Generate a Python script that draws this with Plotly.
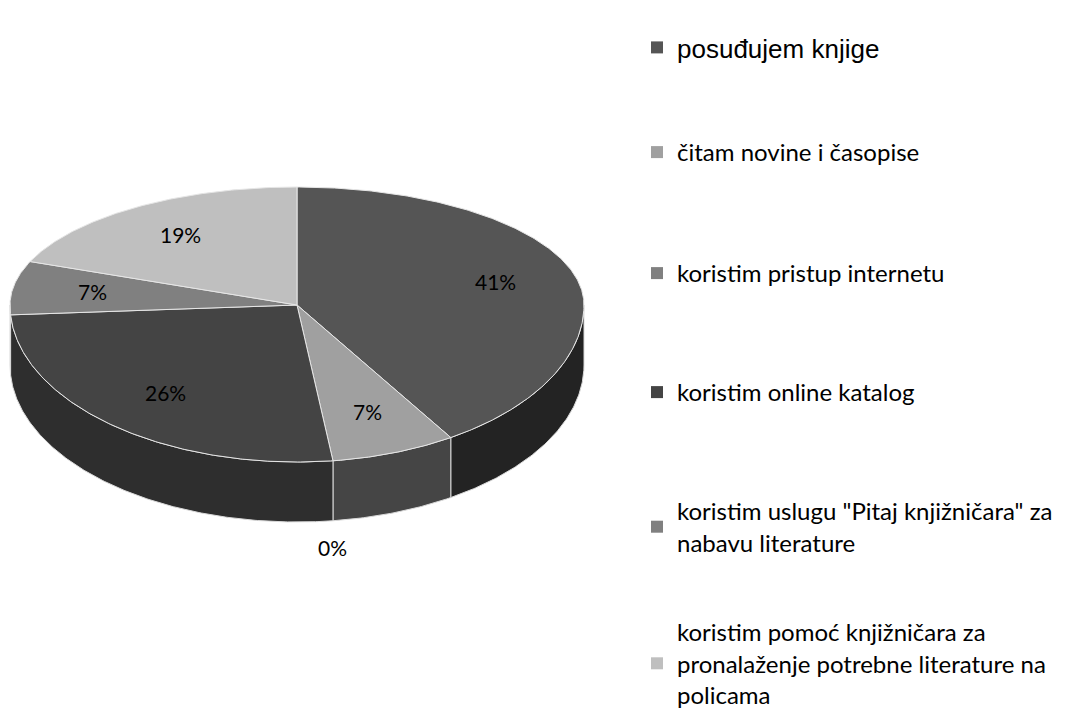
import numpy as np
import plotly.graph_objects as go

categories = [
    "posuđujem knjige",
    "čitam novine i časopise",
    "koristim pristup internetu",
    "koristim online katalog",
    "koristim uslugu \"Pitaj knjižničara\" za<br>nabavu literature",
    "koristim pomoć knjižničara za<br>pronalaženje potrebne literature na<br>policama",
]
values = [41, 7, 0, 26, 7, 19]
top_colors = ["#555555", "#a0a0a0", "#808080", "#444444", "#808080", "#bfbfbf"]
side_colors = ["#232323", "#454545", "#3a3a3a", "#2e2e2e", "#3a3a3a", "#5a5a5a"]
legend_fonts = ["Liberation Sans", "Lato", "Lato", "Lato", "Lato", "Lato"]
legend_sizes = [26, 24, 24, 24, 24, 24]

# layout geometry (pixel-like data units)
W, H = 1072, 711
CX, CY = 297, 305
RX, RY_TOP, RY_BOT = 287, 118, 157
DEPTH = 60
LABEL_R = 0.72


def pt(theta_deg, r=1.0):
    t = np.radians(theta_deg)
    c = np.cos(t)
    ry = np.where(c >= 0, RY_TOP, RY_BOT)
    return CX + r * RX * np.sin(t), CY - r * ry * c


total = float(sum(values))
starts = np.concatenate([[0], np.cumsum(values)[:-1]]) / total * 360
ends = np.cumsum(values) / total * 360

fig = go.Figure()

# side walls (front half only)
for i, v in enumerate(values):
    lo, hi = max(starts[i], 90), min(ends[i], 270)
    if v <= 0 or hi <= lo:
        continue
    th = np.linspace(lo, hi, max(int((hi - lo) * 2), 2))
    x, y = pt(th)
    xs = np.concatenate([x, x[::-1], x[:1]])
    ys = np.concatenate([y, y[::-1] + DEPTH, y[:1]])
    fig.add_trace(go.Scatter(x=xs, y=ys, mode="lines", fill="toself",
                             fillcolor=side_colors[i],
                             line=dict(color="#d9d9d9", width=1),
                             hoverinfo="skip", showlegend=False))

# top faces
for i, v in enumerate(values):
    if v <= 0:
        continue
    th = np.linspace(starts[i], ends[i], max(int((ends[i] - starts[i]) * 2), 2))
    x, y = pt(th)
    xs = np.concatenate([[CX], x, [CX]])
    ys = np.concatenate([[CY], y, [CY]])
    fig.add_trace(go.Scatter(x=xs, y=ys, mode="lines", fill="toself",
                             fillcolor=top_colors[i],
                             line=dict(color="#e6e6e6", width=1),
                             hoverinfo="skip", showlegend=False))

# percentage labels
for i, v in enumerate(values):
    mid = (starts[i] + ends[i]) / 2
    if v > 0:
        lx, ly = pt(mid, LABEL_R)
    else:
        lx, ly = pt(mid, 1.0)
        ly = ly + DEPTH + 27
    fig.add_annotation(x=float(lx), y=float(ly), text=f"{v}%", showarrow=False,
                       font=dict(family="Lato", size=21, color="#000000"))

# legends
legend_first_line_y = [50, 153, 273, 393, 513, 633]
legend_offsets = [26, 23, 22, 23, 24, 23]
for i, name in enumerate(categories):
    lg = "legend" if i == 0 else f"legend{i + 1}"
    fig.add_trace(go.Scatter(x=[None], y=[None], mode="markers", name=name,
                             marker=dict(symbol="square", size=12, color=top_colors[i]),
                             legend=lg, showlegend=True))
    fig.update_layout(**{lg: dict(
        x=637 / W, y=1 - (legend_first_line_y[i] - legend_offsets[i]) / H,
        xanchor="left", yanchor="top",
        bgcolor="rgba(0,0,0,0)", borderwidth=0,
        font=dict(family=legend_fonts[i], size=legend_sizes[i], color="#000000"),
        itemclick=False, itemdoubleclick=False,
    )})

fig.update_layout(
    width=W, height=H,
    margin=dict(l=0, r=0, t=0, b=0, autoexpand=False),
    paper_bgcolor="white", plot_bgcolor="white",
    xaxis=dict(range=[0, W], visible=False, fixedrange=True),
    yaxis=dict(range=[H, 0], visible=False, fixedrange=True),
)

fig.write_html("out.html", config={"displayModeBar": False},
               post_script="document.body.style.margin='0';")
